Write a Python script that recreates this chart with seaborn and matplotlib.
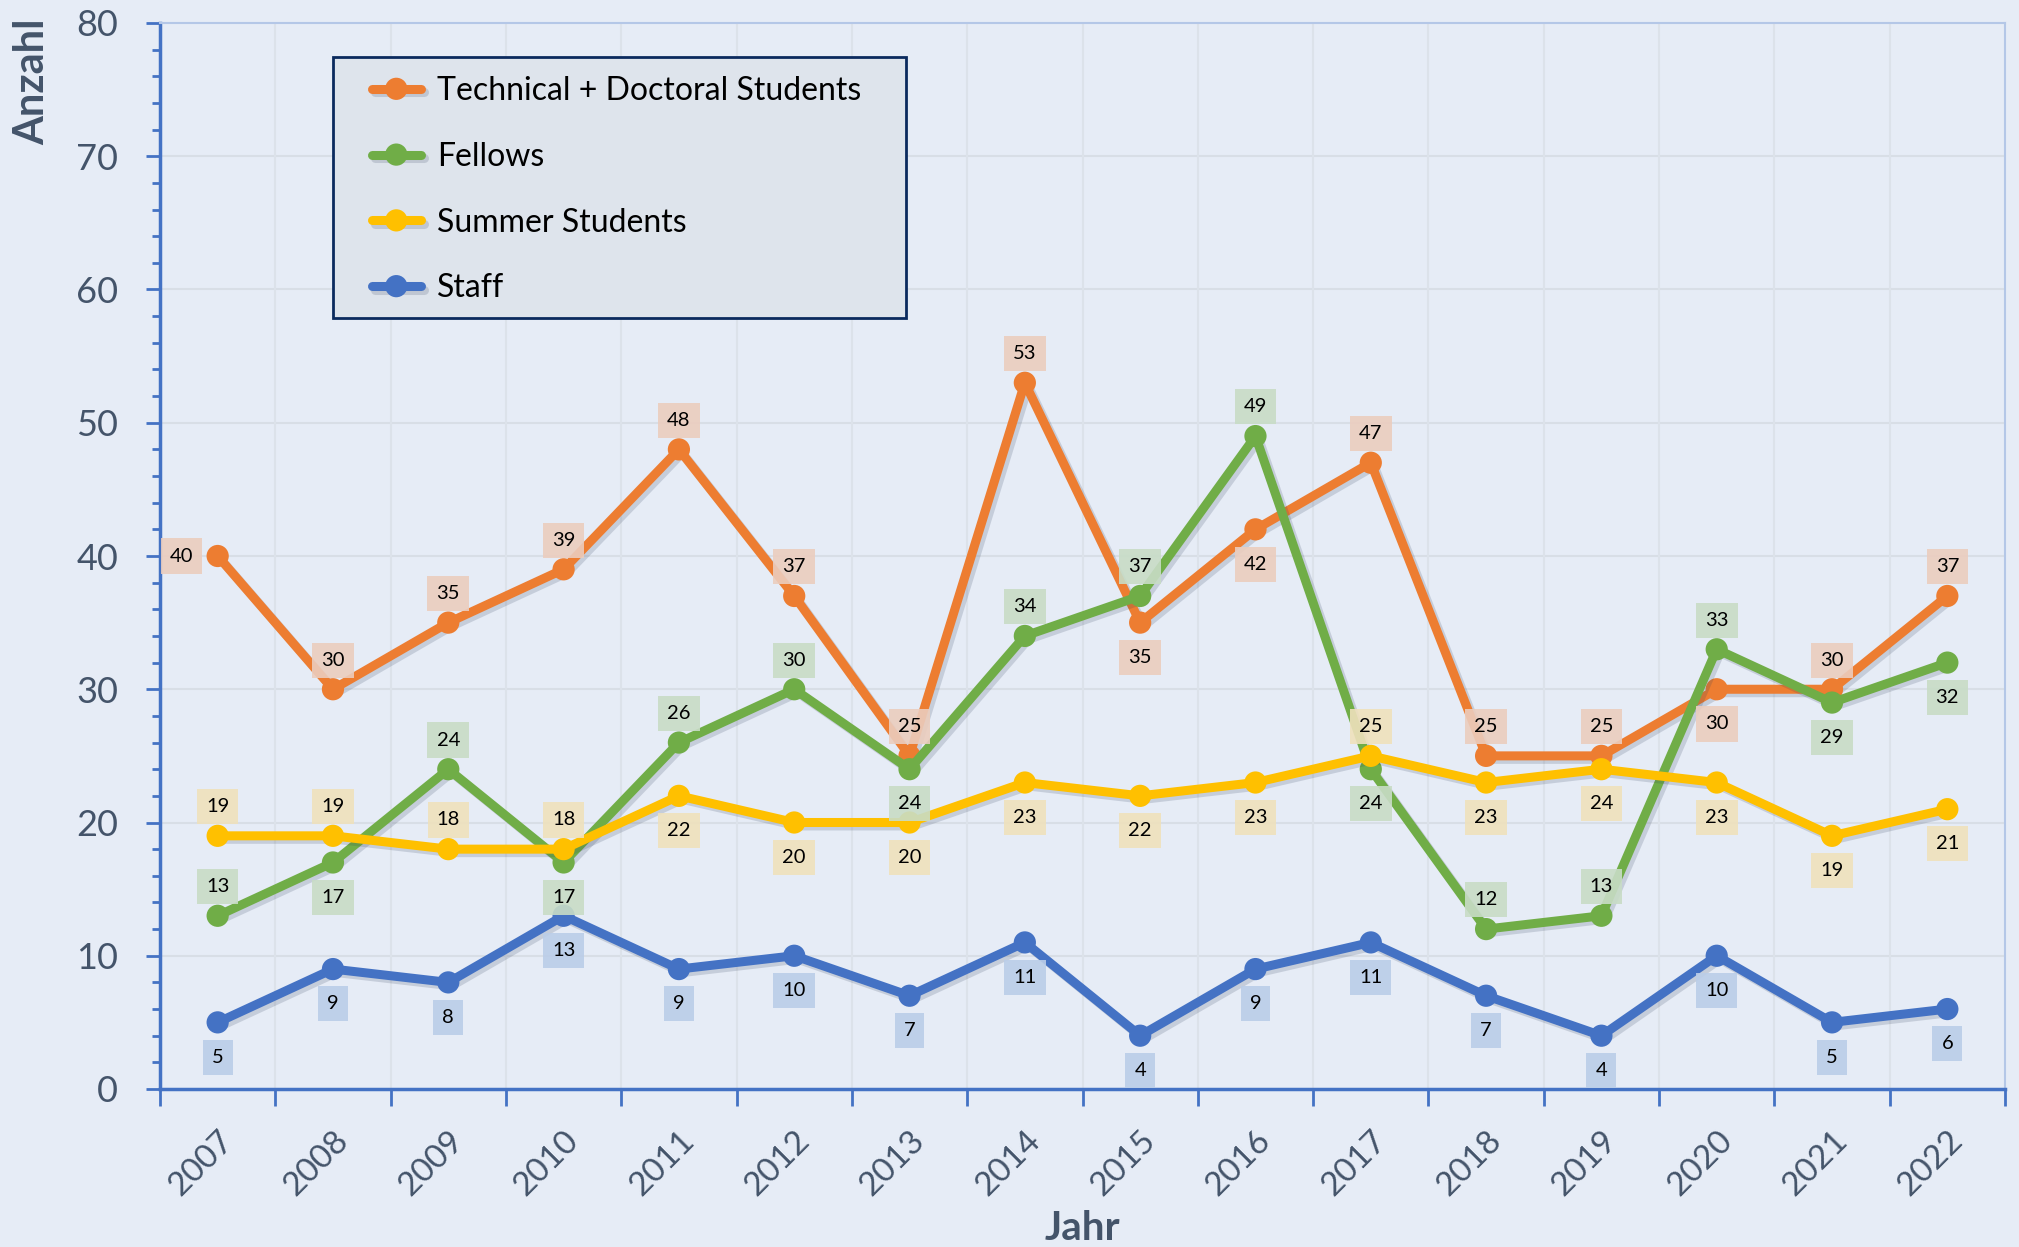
import matplotlib
matplotlib.use("Agg")
import matplotlib.pyplot as plt
import matplotlib.patheffects as pe
from matplotlib.patches import Rectangle
from matplotlib.ticker import MultipleLocator, FixedLocator, NullFormatter
import seaborn as sns
import pandas as pd
import numpy as np

# ---- data -------------------------------------------------------------
years = [2007, 2008, 2009, 2010, 2011, 2012, 2013, 2014,
         2015, 2016, 2017, 2018, 2019, 2020, 2021, 2022]

tech_doc = [40, 30, 35, 39, 48, 37, 25, 53, 35, 42, 47, 25, 25, 30, 30, 37]
fellows = [13, 17, 24, 17, 26, 30, 24, 34, 37, 49, 24, 12, 13, 33, 29, 32]
summer = [19, 19, 18, 18, 22, 20, 20, 23, 22, 23, 25, 23, 24, 23, 19, 21]
staff = [5, 9, 8, 13, 9, 10, 7, 11, 4, 9, 11, 7, 4, 10, 5, 6]

series_names = ["Technical + Doctoral Students", "Fellows",
                "Summer Students", "Staff"]

# label placement per point: u = above, d = below, l = left
tech_pos = ["l", "u", "u", "u", "u", "u", "u", "u",
            "d", "d", "u", "u", "u", "d", "u", "u"]
fell_pos = ["u", "d", "u", "d", "u", "u", "d", "u",
            "u", "u", "d", "u", "u", "u", "d", "d"]
summ_pos = ["u", "u", "u", "u", "d", "d", "d", "d",
            "d", "d", "u", "d", "d", "d", "d", "d"]
staff_pos = ["d"] * 16

colors = ["#ED7D31", "#70AD47", "#FFC000", "#4472C4"]
label_bg = ["#EBCDBE", "#C8DCC6", "#EFE1BC", "#BACDE8"]

# ---- styling ----------------------------------------------------------
BG = "#E6ECF6"
TXT = "#44546A"
AXIS = "#4472C4"
W, H = 2019, 1247

sns.set_theme(style="white")
plt.rcParams["font.family"] = ["Lato", "DejaVu Sans"]

fig = plt.figure(figsize=(W / 100, H / 100), dpi=100, facecolor=BG)
ax = fig.add_axes([160 / W, 1 - 1089 / H, (2005 - 160) / W, (1089 - 23) / H])
ax.set_facecolor(BG)

x_idx = np.arange(len(years))
df = pd.DataFrame({
    "x": np.tile(x_idx, 4),
    "Anzahl": tech_doc + fellows + summer + staff,
    "Serie": np.repeat(series_names, len(years)),
})

shadow = [pe.SimpleLineShadow(offset=(2.5, -2.5), shadow_color="#33415C",
                              alpha=0.18), pe.Normal()]

for i, name in enumerate(series_names):
    sub = df[df["Serie"] == name]
    sns.lineplot(data=sub, x="x", y="Anzahl", ax=ax, color=colors[i],
                 linewidth=6.5, marker="o", markersize=16,
                 markeredgewidth=0, label=name, zorder=3 + i,
                 path_effects=shadow)

# ---- data labels ------------------------------------------------------
all_vals = [tech_doc, fellows, summer, staff]
all_pos = [tech_pos, fell_pos, summ_pos, staff_pos]
offsets = {"u": (0, 21), "d": (0, -25), "l": (-26, 0)}
for i, (vals, poss) in enumerate(zip(all_vals, all_pos)):
    for xi, v, p in zip(x_idx, vals, poss):
        ax.annotate(str(v), (xi, v), xytext=offsets[p],
                    textcoords="offset points", ha="center", va="center",
                    fontsize=14.5, color="black", zorder=10,
                    bbox=dict(boxstyle="square,pad=0.45", fc=label_bg[i],
                              ec="none", alpha=0.9))

# ---- axes -------------------------------------------------------------
ax.set_xlim(-0.5, len(years) - 0.5)
ax.set_ylim(0, 80)

ax.yaxis.set_major_locator(MultipleLocator(10))
ax.yaxis.set_minor_locator(MultipleLocator(2))
ax.tick_params(axis="y", which="major", length=10, width=2, color=AXIS,
               labelsize=26, labelcolor=TXT, pad=20, direction="out", left=True)
ax.tick_params(axis="y", which="minor", length=6, width=2, color=AXIS,
               direction="out", left=True)

# year labels centred on categories, ticks on boundaries
ax.set_xticks(x_idx)
ax.set_xticklabels([str(y) for y in years], rotation=45, ha="right",
                   rotation_mode="anchor")
ax.tick_params(axis="x", which="major", length=0, labelsize=24,
               labelcolor=TXT, pad=26)
ax.xaxis.set_minor_locator(FixedLocator(np.arange(-0.5, len(years), 1.0)))
ax.xaxis.set_minor_formatter(NullFormatter())
ax.tick_params(axis="x", which="minor", length=12, width=2, color=AXIS,
               direction="out", bottom=True)

# gridlines
for yv in range(10, 80, 10):
    ax.axhline(yv, color="#D8DEE6", linewidth=1.5, zorder=0)
for xv in np.arange(0.5, len(years) - 0.5, 1.0):
    ax.axvline(xv, color="#DCE2EA", linewidth=1.5, zorder=0)

for side in ["left", "bottom"]:
    ax.spines[side].set_color(AXIS)
    ax.spines[side].set_linewidth(2.5)
for side in ["top", "right"]:
    ax.spines[side].set_color("#B4C7E7")
    ax.spines[side].set_linewidth(1.5)

ax.set_xlabel("")
ax.set_ylabel("")
fig.text(32 / W, 1 - 82 / H, "Anzahl", rotation=90, ha="center",
         va="center", fontsize=30, fontweight="bold", color=TXT)
fig.text(1082 / W, 1 - 1228 / H, "Jahr", ha="center", va="center",
         fontsize=29, fontweight="bold", color=TXT)

# ---- legend -----------------------------------------------------------
frame = Rectangle((333 / W, 1 - 318 / H), (906 - 333) / W, (318 - 57) / H,
                  transform=fig.transFigure, facecolor="#DEE4EC",
                  edgecolor="#0B2A5E", linewidth=2, zorder=19, clip_on=False)
ax.add_patch(frame)

leg = ax.legend(loc="upper left", bbox_to_anchor=(372 / W, 1 - 76 / H),
                bbox_transform=fig.transFigure, borderaxespad=0,
                borderpad=0, fontsize=23, frameon=False,
                handlelength=1.52, handletextpad=0.52, labelspacing=1.12)
for t in leg.get_texts():
    t.set_color("black")
leg.set_zorder(20)

fig.savefig("out.png", dpi=100, facecolor=BG)
